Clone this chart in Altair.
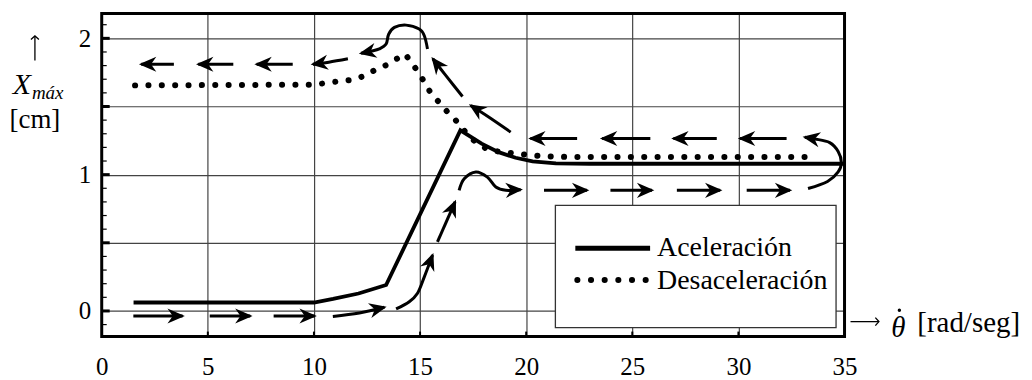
import math
import altair as alt
import pandas as pd

W, H = 745, 324
X_DOM = [0, 35]
Y_DOM = [-0.188, 2.182]
KX = W / (X_DOM[1] - X_DOM[0])
KY = H / (Y_DOM[1] - Y_DOM[0])
SERIF = "Liberation Serif"

# Aceleración (solid)
acc_x = [1.5, 10.0, 10.9, 12.1, 13.4, 16.9, 17.9, 18.7, 19.5, 20.3, 21.4, 23.0, 35.0]
acc_y = [0.062, 0.062, 0.088, 0.128, 0.19, 1.325, 1.227, 1.165, 1.124, 1.097, 1.083, 1.08, 1.08]

# Desaceleración (dotted)
dec_x = [1.57, 10.0, 11.2, 11.8, 12.4, 12.9, 13.5, 13.9, 14.3, 14.6, 14.9, 15.2, 15.5,
         15.9, 16.3, 16.69, 17.1, 17.6, 18.26, 18.96, 19.58, 20.29, 20.92, 22.0, 33.2]
dec_y = [1.655, 1.66, 1.685, 1.695, 1.726, 1.77, 1.81, 1.85, 1.885, 1.82, 1.756, 1.68, 1.60,
         1.53, 1.458, 1.397, 1.32, 1.24, 1.178, 1.165, 1.153, 1.141, 1.134, 1.13, 1.13]

x_ticks = [0, 5, 10, 15, 20, 25, 30, 35]
x_inner_ticks = [5, 10, 15, 20, 25, 30]
y_major = [0, 0.5, 1, 1.5, 2]
y_minor = [-0.1, 0.1, 0.2, 0.3, 0.4, 0.6, 0.7, 0.8, 0.9, 1.1, 1.2, 1.3, 1.4,
           1.6, 1.7, 1.8, 1.9, 2.1]

# direction arrows: list of points, last point = arrow tip
arrows = [
    [(3.4, 1.81), (1.86, 1.81)],
    [(6.2, 1.81), (4.55, 1.81)],
    [(9.0, 1.81), (7.3, 1.81)],
    [(11.6, 1.85), (10.7, 1.825), (9.95, 1.81)],
    [(15.35, 1.922), (15.2, 2.019), (14.96, 2.068), (14.34, 2.097), (13.79, 2.08),
     (13.52, 2.03), (13.4, 1.958), (13.08, 1.922), (12.69, 1.905), (12.22, 1.89)],
    [(17.0, 1.573), (16.2, 1.73), (15.6, 1.85)],
    [(19.27, 1.312), (18.25, 1.421), (17.39, 1.507)],
    [(22.4, 1.265), (20.2, 1.265)],
    [(25.85, 1.265), (23.58, 1.265)],
    [(28.98, 1.265), (26.94, 1.265)],
    [(32.27, 1.265), (30.08, 1.265)],
    [(33.28, 0.898), (34.2, 0.95), (34.7, 1.02), (34.85, 1.09), (34.7, 1.17),
     (34.3, 1.235), (33.6, 1.262), (33.13, 1.275)],
    [(1.49, -0.037), (3.81, -0.037)],
    [(5.09, -0.037), (7.0, -0.037)],
    [(8.1, -0.037), (10.03, -0.037)],
    [(10.89, -0.04), (12.14, -0.015), (13.32, 0.027)],
    [(13.87, 0.015), (14.49, 0.068), (14.88, 0.13), (15.2, 0.25), (15.59, 0.41)],
    [(15.82, 0.507), (16.65, 0.80)],
    [(16.84, 0.885), (17.08, 0.97), (17.63, 1.02), (18.17, 0.982), (18.57, 0.909),
     (19.04, 0.885), (19.74, 0.89)],
    [(20.84, 0.885), (22.87, 0.885)],
    [(23.97, 0.885), (25.93, 0.885)],
    [(27.1, 0.885), (29.14, 0.885)],
    [(30.39, 0.885), (32.43, 0.885)],
]

acc_df = pd.DataFrame({"x": acc_x, "y": acc_y, "i": range(len(acc_x))})
dec_df = pd.DataFrame({"x": dec_x, "y": dec_y, "i": range(len(dec_x))})

rows, heads = [], []
for k, pts in enumerate(arrows):
    for i, (x, y) in enumerate(pts):
        rows.append({"id": k, "i": i, "x": x, "y": y})
    (x0, y0), (x1, y1) = pts[-2], pts[-1]
    ang = math.degrees(math.atan2(-(y1 - y0) * KY, (x1 - x0) * KX)) % 360
    heads.append({"x": x1, "y": y1, "a": ang})
arr_df = pd.DataFrame(rows)
head_df = pd.DataFrame(heads)

xs = alt.Scale(domain=X_DOM, nice=False, zero=False)
ys = alt.Scale(domain=Y_DOM, nice=False, zero=False)
x_axis = alt.Axis(values=x_ticks, grid=True, ticks=False, domain=False, title=None,
                  labelFont=SERIF, labelFontSize=25, labelColor="black", labelPadding=18,
                  gridColor="#444", gridWidth=1.2, labelFlush=False, format="d")
y_axis = alt.Axis(values=y_major, grid=True, ticks=False, domain=False, title=None,
                  labelFont=SERIF, labelFontSize=25, labelColor="black", labelPadding=11,
                  format=".0f",
                  labelExpr="datum.value % 1 == 0 ? datum.label : ''",
                  gridColor="#444", gridWidth=1.2, labelFlush=False)


def X(f="x"):
    return alt.X(f"{f}:Q", scale=xs, axis=x_axis)


def Y(f="y"):
    return alt.Y(f"{f}:Q", scale=ys, axis=y_axis)


one = alt.Data(values=[{}])

ymin_df = pd.DataFrame({"v": y_minor})
ymaj_df = pd.DataFrame({"v": y_major})
xt_df = pd.DataFrame({"v": x_inner_ticks})

minor_ticks = alt.Chart(ymin_df).mark_rule(color="black", strokeWidth=1.2).encode(
    y=Y("v"), x=alt.value(0), x2=alt.value(5))
major_ticks = alt.Chart(ymaj_df).mark_rule(color="black", strokeWidth=3).encode(
    y=Y("v"), x=alt.value(0), x2=alt.value(8))
x_tick_marks = alt.Chart(xt_df).mark_rule(color="black", strokeWidth=2).encode(
    x=X("v"), y=alt.value(H), y2=alt.value(H - 5))

dec_line = alt.Chart(dec_df).mark_line(
    color="black", strokeWidth=6, strokeDash=[0.1, 13.3], strokeCap="round"
).encode(x=X(), y=Y(), order="i:Q")
acc_line = alt.Chart(acc_df).mark_line(
    color="black", strokeWidth=3.8, strokeJoin="miter"
).encode(x=X(), y=Y(), order="i:Q")

arrow_lines = alt.Chart(arr_df).mark_line(
    color="black", strokeWidth=3, interpolate="cardinal"
).encode(x=X(), y=Y(), detail="id:N", order="i:Q")
arrow_heads = alt.Chart(head_df).mark_point(
    shape="M0.3,0 L-2,-1 L-1.3,0 L-2,1 Z", filled=True, color="black",
    opacity=1, size=230
).encode(x=X(), y=Y(), angle=alt.Angle("a:Q", scale=None))

# legend
lg_x0, lg_x1, lg_y0, lg_y1 = 455, 736.5, 192.5, 315
legend_box = alt.Chart(one).mark_rect(fill="white", stroke="#333", strokeWidth=1.3).encode(
    x=alt.value(lg_x0), x2=alt.value(lg_x1), y=alt.value(lg_y0), y2=alt.value(lg_y1))
leg_solid = alt.Chart(one).mark_rule(color="black", strokeWidth=5).encode(
    x=alt.value(475), x2=alt.value(550), y=alt.value(235.5))
leg_dot = alt.Chart(one).mark_rule(color="black", strokeWidth=6, strokeDash=[0.1, 13.6],
                                   strokeCap="round").encode(
    x=alt.value(477), x2=alt.value(550), y=alt.value(267.3))
leg_t1 = alt.Chart(one).mark_text(text="Aceleración", font=SERIF, fontSize=28, align="left",
                                  baseline="alphabetic", color="black").encode(
    x=alt.value(557), y=alt.value(243))
leg_t2 = alt.Chart(one).mark_text(text="Desaceleración", font=SERIF, fontSize=28, align="left",
                                  baseline="alphabetic", color="black").encode(
    x=alt.value(557), y=alt.value(276))

frame = alt.Chart(one).mark_rect(fill=None, filled=False, stroke="black", strokeWidth=3).encode(
    x=alt.value(0), x2=alt.value(W), y=alt.value(0), y2=alt.value(H))


def txt(s, x, y, size=26, style="normal", align="center", baseline="middle", font=SERIF):
    return alt.Chart(one).mark_text(text=s, font=font, fontSize=size, fontStyle=style,
                                    align=align, baseline=baseline, color="black").encode(
        x=alt.value(x), y=alt.value(y))


# axis-title arrows (↑ for y, → for x) drawn as thin shafts with open heads
ax_arrow_y = alt.Chart(one).mark_rule(color="black", strokeWidth=1.3).encode(
    x=alt.value(-67), y=alt.value(23), y2=alt.value(47))
ax_arrow_y_head = alt.Chart(one).mark_point(
    shape="M-1,0.9 L0,0 L1,0.9", filled=False, color="black", strokeWidth=1.3,
    opacity=1, size=64).encode(x=alt.value(-67), y=alt.value(22.5))
ax_arrow_x = alt.Chart(one).mark_rule(color="black", strokeWidth=1.3).encode(
    x=alt.value(751), x2=alt.value(779), y=alt.value(309))
ax_arrow_x_head = alt.Chart(one).mark_point(
    shape="M-1,0.9 L0,0 L1,0.9", filled=False, color="black", strokeWidth=1.3,
    opacity=1, size=64, angle=90).encode(x=alt.value(779.5), y=alt.value(309))
theta_dot = alt.Chart(one).mark_point(
    shape="circle", filled=True, color="black", opacity=1, size=12).encode(
    x=alt.value(800), y=alt.value(297.5))

titles = [
    txt("X", -80, 81, 30, "italic", "center", "alphabetic"),
    txt("máx", -70, 86, 19, "italic", "left", "alphabetic"),
    txt("[cm]", -67, 107, 27),
    txt("θ", 799, 324, 29, "italic", "center", "alphabetic"),
    txt("[rad/seg]", 818, 319, 29, "normal", "left", "alphabetic"),
]

chart = alt.layer(
    minor_ticks, major_ticks, x_tick_marks, dec_line, acc_line, arrow_lines, arrow_heads,
    legend_box, leg_solid, leg_dot, leg_t1, leg_t2, frame,
    ax_arrow_y, ax_arrow_y_head, ax_arrow_x, ax_arrow_x_head, theta_dot, *titles
).properties(
    width=W, height=H,
    autosize=alt.AutoSizeParams(type="none"),
    padding={"left": 94, "top": 5, "right": 180, "bottom": 44},
    background="white",
).configure_view(stroke=None)

chart.save("out.html", embed_options={"renderer": "svg", "actions": False})
